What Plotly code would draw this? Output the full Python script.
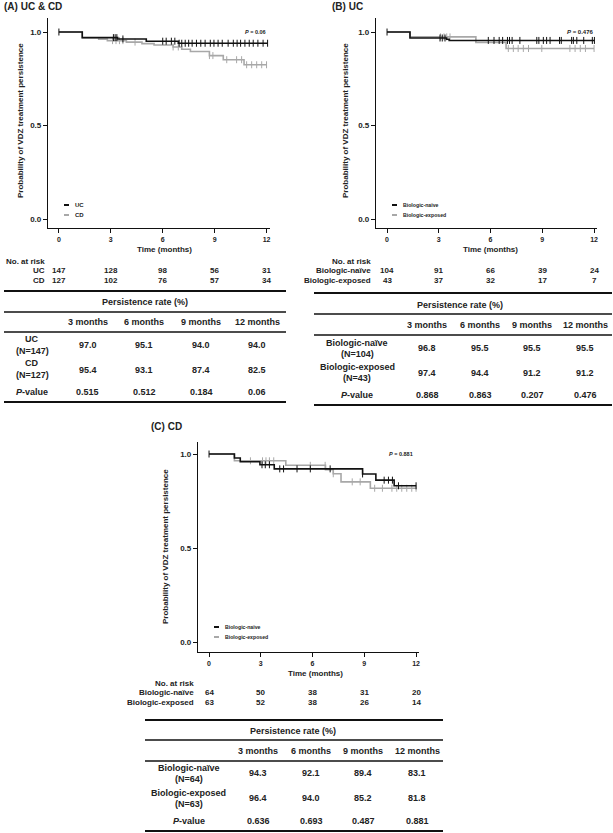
import plotly.graph_objects as go

W, H = 613, 833
FONT = "Liberation Sans, Arial, sans-serif"
TXT = "#222222"
BLACK = "#111111"
GRAY = "#a8a8a8"

# ---------------- data ----------------
# Panel A: UC vs CD
a_uc_event_t = [0.0, 1.35, 3.4, 5.05, 6.9]
a_uc_surv = [1.0, 0.970, 0.963, 0.951, 0.940]
a_uc_cens_t = [0.0, 3.15, 3.25, 3.35, 3.7, 6.0, 6.2, 6.5, 6.7, 6.95, 7.1, 7.3, 7.5, 7.7, 7.95,
               8.2, 8.45, 8.75, 8.96, 9.2, 9.44, 9.78, 10.08, 10.3, 10.5, 10.75, 11.0, 11.23,
               11.5, 11.8, 12.06]
a_cd_event_t = [0.0, 1.35, 2.3, 2.8, 3.9, 4.8, 5.5, 6.6, 7.1, 7.6, 8.7, 9.5, 10.7]
a_cd_surv = [1.0, 0.969, 0.962, 0.954, 0.946, 0.938, 0.931, 0.920, 0.908, 0.896, 0.874, 0.852, 0.825]
a_cd_cens_t = [3.1, 3.3, 3.5, 3.7, 4.4, 6.6, 6.9, 8.7, 8.9, 9.7, 10.27, 10.56, 10.85, 11.14,
               11.43, 11.72, 12.0]

# Panel B: UC, biologic-naive vs exposed
b_naive_event_t = [0.0, 1.33, 3.45, 3.6]
b_naive_surv = [1.0, 0.968, 0.961, 0.955]
b_naive_cens_t = [0.0, 3.07, 3.2, 3.36, 5.87, 6.2, 6.5, 6.7, 6.98, 7.1, 7.25, 7.7, 8.68, 8.8,
                  9.06, 9.25, 9.45, 10.0, 10.1, 10.7, 10.8, 11.0, 11.4, 11.9, 12.02]
b_exposed_event_t = [0.0, 1.33, 5.15, 6.9]
b_exposed_surv = [1.0, 0.974, 0.944, 0.912]
b_exposed_cens_t = [3.1, 3.3, 3.46, 3.65, 7.03, 7.32, 7.6, 7.9, 8.2, 8.97, 10.6, 10.9, 11.2,
                    11.5, 12.0]

# Panel C: CD, biologic-naive vs exposed
c_naive_event_t = [0.0, 1.47, 1.81, 2.95, 3.78, 8.9, 9.67, 10.73]
c_naive_surv = [1.0, 0.979, 0.959, 0.943, 0.921, 0.894, 0.861, 0.831]
c_naive_cens_t = [0.0, 3.07, 3.26, 3.5, 4.1, 4.32, 5.1, 5.87, 7.02, 8.9, 10.15, 10.4, 10.63,
                  10.98, 12.0]
c_exposed_event_t = [0.0, 1.47, 4.45, 6.75, 7.2, 7.65, 9.35]
c_exposed_surv = [1.0, 0.964, 0.940, 0.917, 0.895, 0.852, 0.818]
c_exposed_cens_t = [2.4, 3.1, 3.3, 3.5, 3.75, 5.87, 6.73, 7.2, 8.3, 8.76, 9.6, 10.05, 10.6,
                    10.88, 11.17, 11.46, 11.75, 12.0]

# at-risk
risk_times = [0, 3, 6, 9, 12]
a_uc_risk = [147, 128, 98, 56, 31]
a_cd_risk = [127, 102, 76, 57, 34]
b_naive_risk = [104, 91, 66, 39, 24]
b_exposed_risk = [43, 37, 32, 17, 7]
c_naive_risk = [64, 50, 38, 31, 20]
c_exposed_risk = [63, 52, 38, 26, 14]

# persistence tables
month_labels = ["3 months", "6 months", "9 months", "12 months"]
a_uc_rate = [97.0, 95.1, 94.0, 94.0]
a_cd_rate = [95.4, 93.1, 87.4, 82.5]
a_pval = ["0.515", "0.512", "0.184", "0.06"]
b_naive_rate = [96.8, 95.5, 95.5, 95.5]
b_exposed_rate = [97.4, 94.4, 91.2, 91.2]
b_pval = ["0.868", "0.863", "0.207", "0.476"]
c_naive_rate = [94.3, 92.1, 89.4, 83.1]
c_exposed_rate = [96.4, 94.0, 85.2, 81.8]
c_pval = ["0.636", "0.693", "0.487", "0.881"]

overall_p = ["0.06", "0.476", "0.881"]
y_ticks = [0.0, 0.5, 1.0]
x_ticks = [0, 3, 6, 9, 12]


# ---------------- helpers ----------------
def px(x):
    return x / W


def py(y):
    return 1 - y / H


def surv_at(t, ev_t, surv):
    v = surv[0]
    for et, s in zip(ev_t, surv):
        if et <= t:
            v = s
    return v


fig = go.Figure()


def add_km(ev_t, surv, cens_t, color, xa, ya):
    end = max(max(cens_t), ev_t[-1])
    xs = list(ev_t) + [end]
    ys = list(surv) + [surv[-1]]
    fig.add_trace(go.Scatter(x=xs, y=ys, mode="lines", line=dict(color=color, width=1.6, shape="hv"),
                             xaxis=xa, yaxis=ya, showlegend=False, hoverinfo="skip"))
    fig.add_trace(go.Scatter(x=cens_t, y=[surv_at(t, ev_t, surv) for t in cens_t], mode="markers",
                             marker=dict(symbol="line-ns-open", size=5, color=color,
                                         line=dict(color=color, width=1)),
                             xaxis=xa, yaxis=ya, showlegend=False, hoverinfo="skip"))


add_km(a_cd_event_t, a_cd_surv, a_cd_cens_t, GRAY, "x", "y")
add_km(a_uc_event_t, a_uc_surv, a_uc_cens_t, BLACK, "x", "y")
add_km(b_exposed_event_t, b_exposed_surv, b_exposed_cens_t, GRAY, "x2", "y2")
add_km(b_naive_event_t, b_naive_surv, b_naive_cens_t, BLACK, "x2", "y2")
add_km(c_exposed_event_t, c_exposed_surv, c_exposed_cens_t, GRAY, "x3", "y3")
add_km(c_naive_event_t, c_naive_surv, c_naive_cens_t, BLACK, "x3", "y3")

xcommon = dict(showgrid=False, zeroline=False, showline=True, linecolor=BLACK, linewidth=1.2,
               ticks="outside", ticklen=4, tickwidth=1, tickcolor=BLACK, tickvals=x_ticks,
               tickfont=dict(family=FONT, size=7, color=TXT, weight="bold"), fixedrange=True)
ycommon = dict(showgrid=False, zeroline=False, showline=True, linecolor=BLACK, linewidth=1.2,
               ticks="outside", ticklen=4, tickwidth=1, tickcolor=BLACK, tickvals=y_ticks,
               ticktext=[f"{v:.1f}" for v in y_ticks],
               tickfont=dict(family=FONT, size=8, color=TXT, weight="bold"), fixedrange=True)

fig.update_layout(
    width=W, height=H, margin=dict(l=0, r=0, t=0, b=0),
    paper_bgcolor="white", plot_bgcolor="white", showlegend=False,
    xaxis=dict(xcommon, domain=[px(48), px(270)], range=[-0.63, 12.2], anchor="y"),
    yaxis=dict(ycommon, domain=[py(228), py(18)], range=[-0.048, 1.075], anchor="x"),
    xaxis2=dict(xcommon, domain=[px(376), px(597)], range=[-0.64, 12.17], anchor="y2"),
    yaxis2=dict(ycommon, domain=[py(228), py(18)], range=[-0.048, 1.075], anchor="x2"),
    xaxis3=dict(xcommon, domain=[px(198), px(419)], range=[-0.64, 12.17], anchor="y3"),
    yaxis3=dict(ycommon, domain=[py(652), py(442)], range=[-0.053, 1.064], anchor="x3"),
)

ann = []
shapes = []


def text(x, y, s, size=8, xanchor="center", bold=True, angle=0, xref="paper", color=TXT):
    ann.append(dict(x=x if xref != "paper" else px(x), y=py(y), xref=xref, yref="paper", text=s,
                    showarrow=False, xanchor=xanchor, yanchor="middle", textangle=angle,
                    font=dict(family=FONT, size=size, color=color, weight="bold" if bold else "normal")))


def hline(x0, x1, y, w=1.6):
    shapes.append(dict(type="line", xref="paper", yref="paper", x0=px(x0), x1=px(x1), y0=py(y), y1=py(y),
                       line=dict(color=BLACK, width=w)))


def legend(x_line, x_text, y_rows, labels, size):
    for yy, lab, col in zip(y_rows, labels, [BLACK, GRAY]):
        shapes.append(dict(type="line", xref="paper", yref="paper", x0=px(x_line), x1=px(x_line + 5),
                           y0=py(yy), y1=py(yy), line=dict(color=col, width=2)))
        text(x_text, yy, lab, size=size, xanchor="left")


# titles
text(2, 7, "(A) UC & CD", size=10, xanchor="left")
text(330, 7, "(B) UC", size=10, xanchor="left")
text(166, 427, "(C) CD", size=10)

# y-axis titles
text(20, 121, "Probability of VDZ treatment persistence", size=8, angle=-90)
text(345, 121, "Probability of VDZ treatment persistence", size=8, angle=-90)
text(165, 547, "Probability of VDZ treatment persistence", size=8, angle=-90)

# x-axis titles
text(164, 250, "Time (months)", size=8)
text(490, 250, "Time (months)", size=8)
text(315, 673, "Time (months)", size=8)

# P values
ann.append(dict(x=12.1, y=1.0, xref="x", yref="y", text=f"<i>P</i> = {overall_p[0]}", showarrow=False,
                xanchor="right", yanchor="middle", font=dict(family=FONT, size=5.5, color=TXT, weight="bold")))
ann.append(dict(x=12.1, y=1.0, xref="x2", yref="y2", text=f"<i>P</i> = {overall_p[1]}", showarrow=False,
                xanchor="right", yanchor="middle", font=dict(family=FONT, size=6, color=TXT, weight="bold")))
ann.append(dict(x=11.95, y=1.0, xref="x3", yref="y3", text=f"<i>P</i> = {overall_p[2]}", showarrow=False,
                xanchor="right", yanchor="middle", font=dict(family=FONT, size=5.5, color=TXT, weight="bold")))

# legends
legend(64, 73, [205, 215], ["UC", "CD"], 6)
legend(392, 401, [205, 215], ["Biologic-naïve", "Biologic-exposed"], 5.2)
legend(214, 223, [627, 637], ["Biologic-naïve", "Biologic-exposed"], 5.2)


# at risk
def at_risk(xref, x_label, y0, labels, risks):
    text(x_label, y0, "No. at risk", size=8, xanchor="right")
    for k, (lab, rk) in enumerate(zip(labels, risks)):
        yy = y0 + 9.7 * (k + 1)
        text(x_label, yy, lab, size=8, xanchor="right")
        for t, n in zip(risk_times, rk):
            text(t, yy, str(n), size=8, xref=xref)


at_risk("x", 47, 261, ["UC", "CD"], [a_uc_risk, a_cd_risk])
at_risk("x2", 373, 261, ["Biologic-naïve", "Biologic-exposed"], [b_naive_risk, b_exposed_risk])
at_risk("x3", 196, 683, ["Biologic-naïve", "Biologic-exposed"], [c_naive_risk, c_exposed_risk])


# tables
def table(x0, x1, lines_y, title_xy, col_x, header_y, label_x, rows, p_y, pvals):
    hline(x0, x1, lines_y[0], 2)
    hline(x0, x1, lines_y[1], 1.6)
    hline(x0, x1, lines_y[2], 1.6)
    hline(x0, x1, lines_y[3], 2)
    text(title_xy[0], title_xy[1], "Persistence rate (%)", size=9)
    for cx, m in zip(col_x, month_labels):
        text(cx, header_y, m, size=9)
    for (l1, l2, y1, y2, vy, vals) in rows:
        text(label_x, y1, l1, size=9)
        text(label_x, y2, l2, size=9)
        for cx, v in zip(col_x, vals):
            text(cx, vy, f"{v:.1f}", size=9)
    text(label_x, p_y, "<i>P</i>-value", size=9)
    for cx, v in zip(col_x, pvals):
        text(cx, p_y, v, size=9)


table(4, 286, [291, 312, 332, 402], (145, 302), [88, 144, 201, 257], 322, 32,
      [("UC", f"(N={a_uc_risk[0]})", 339, 351, 345, a_uc_rate),
       ("CD", f"(N={a_cd_risk[0]})", 363, 375, 370, a_cd_rate)], 392, a_pval)
table(314, 612, [293, 314, 335, 405], (460, 305), [427, 480, 532, 585], 325, 357,
      [("Biologic-naïve", f"(N={b_naive_risk[0]})", 343, 354, 348, b_naive_rate),
       ("Biologic-exposed", f"(N={b_exposed_risk[0]})", 367, 378, 373, b_exposed_rate)], 395, b_pval)
table(145, 443, [720, 740, 761, 831], (293, 731), [258, 311, 363, 417], 751, 189,
      [("Biologic-naïve", f"(N={c_naive_risk[0]})", 768, 779, 773, c_naive_rate),
       ("Biologic-exposed", f"(N={c_exposed_risk[0]})", 793, 804, 798, c_exposed_rate)], 821, c_pval)

fig.update_layout(annotations=ann, shapes=shapes)
fig.write_html("out.html", config={"displayModeBar": False},
               post_script="document.body.style.margin='0px';document.body.style.padding='0px';")
